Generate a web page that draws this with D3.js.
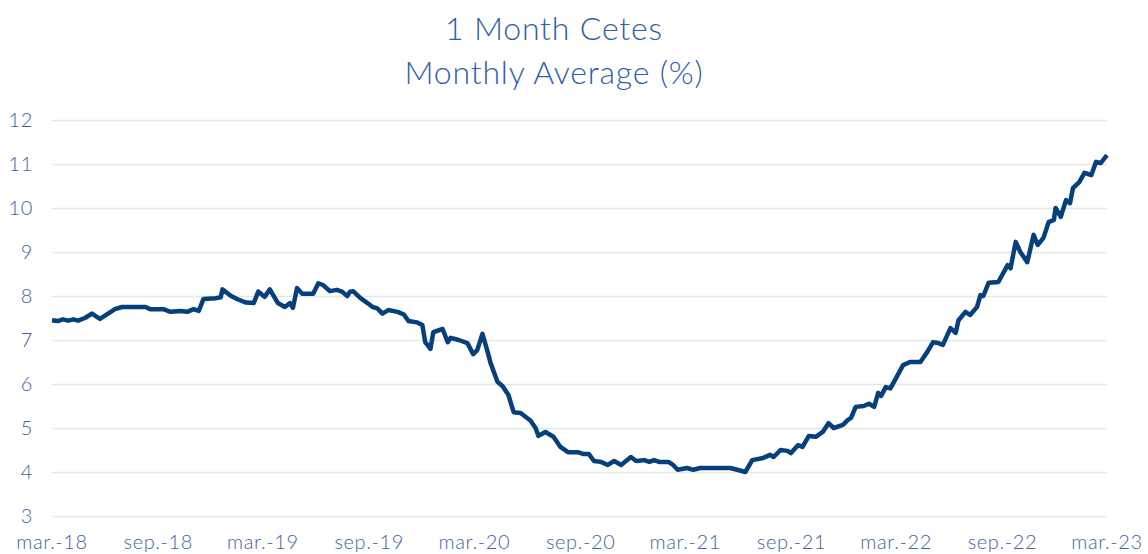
<!DOCTYPE html>
<html lang="en">
<head>
  <meta charset="UTF-8">
  <title>1 Month Cetes</title>
  <script src="https://d3js.org/d3.v7.min.js"></script>
  <style>
    body {
      margin: 0;
      background-color: #ffffff;
      font-family: 'Lato', 'Open Sans', sans-serif;
    }
    .title {
      fill: #2f60a6;
      font-size: 32px;
      font-weight: 300;
      letter-spacing: 0.8px;
    }
    .tick-label {
      fill: #44639b;
      font-size: 20px;
      font-weight: 300;
      letter-spacing: 0.6px;
    }
    .grid line {
      stroke: #e6e6e6;
      stroke-width: 1.5;
    }
    .series {
      fill: none;
      stroke: #053f7c;
      stroke-width: 4.5;
      stroke-linejoin: round;
    }
  </style>
</head>
<body>
  <svg width="1148" height="554"></svg>

  <script>
    // Weekly-ish readings of the 1 month Cetes rate (%)
    const dates = [
      "2018-03-01","2018-03-11","2018-03-20","2018-03-29","2018-04-07","2018-04-15","2018-04-27","2018-05-09",
      "2018-05-23","2018-06-06","2018-06-18","2018-06-30","2018-07-23","2018-08-10","2018-08-18","2018-09-10",
      "2018-09-22","2018-10-09","2018-10-21","2018-11-01","2018-11-10","2018-11-18","2018-12-09","2018-12-18",
      "2018-12-21","2019-01-05","2019-01-17","2019-01-31","2019-02-13","2019-02-21","2019-03-04","2019-03-13",
      "2019-03-27","2019-04-08","2019-04-17","2019-04-22","2019-04-29","2019-05-08","2019-05-27","2019-06-05",
      "2019-06-13","2019-06-25","2019-07-07","2019-07-16","2019-07-25","2019-07-30","2019-08-04","2019-08-17",
      "2019-08-29","2019-09-07","2019-09-15","2019-09-24","2019-10-04","2019-10-20","2019-10-31","2019-11-08",
      "2019-11-23","2019-12-02","2019-12-07","2019-12-16","2019-12-21","2020-01-06","2020-01-15","2020-01-20",
      "2020-02-03","2020-02-18","2020-02-28","2020-03-06","2020-03-15","2020-03-24","2020-03-29","2020-04-10",
      "2020-04-19","2020-04-29","2020-05-08","2020-05-20","2020-06-06","2020-06-15","2020-06-20","2020-07-02",
      "2020-07-16","2020-07-28","2020-08-10","2020-08-27","2020-09-05","2020-09-15","2020-09-24","2020-10-06",
      "2020-10-18","2020-10-29","2020-11-10","2020-11-27","2020-12-06","2020-12-20","2020-12-29","2021-01-06",
      "2021-01-15","2021-01-31","2021-02-08","2021-02-16","2021-03-04","2021-03-15","2021-03-27","2021-05-18",
      "2021-05-30","2021-06-13","2021-06-25","2021-07-14","2021-07-26","2021-08-01","2021-08-13","2021-08-25",
      "2021-08-31","2021-09-12","2021-09-20","2021-10-01","2021-10-13","2021-10-25","2021-11-04","2021-11-13",
      "2021-11-29","2021-12-07","2021-12-13","2021-12-21","2022-01-04","2022-01-13","2022-01-22","2022-01-29",
      "2022-02-03","2022-02-11","2022-02-19","2022-02-27","2022-03-13","2022-03-25","2022-04-12","2022-04-24",
      "2022-05-04","2022-05-13","2022-05-21","2022-06-03","2022-06-12","2022-06-17","2022-06-29","2022-07-07",
      "2022-07-19","2022-07-25","2022-07-30","2022-08-08","2022-08-25","2022-09-10","2022-09-15","2022-09-24",
      "2022-10-02","2022-10-14","2022-10-25","2022-11-01","2022-11-11","2022-11-20","2022-11-29","2022-12-02",
      "2022-12-11","2022-12-20","2022-12-27","2023-01-01","2023-01-12","2023-01-21","2023-02-02","2023-02-10",
      "2023-02-18","2023-03-01"
    ];
    const rates = [
      7.45, 7.43, 7.47, 7.44, 7.47, 7.44, 7.50, 7.60,
      7.48, 7.60, 7.70, 7.75, 7.75, 7.75, 7.70, 7.70,
      7.64, 7.66, 7.64, 7.70, 7.66, 7.93, 7.95, 7.97,
      8.15, 8.00, 7.92, 7.85, 7.84, 8.10, 7.98, 8.15,
      7.84, 7.75, 7.84, 7.73, 8.18, 8.05, 8.05, 8.29,
      8.25, 8.11, 8.14, 8.10, 8.00, 8.10, 8.11, 7.95,
      7.84, 7.75, 7.72, 7.60, 7.68, 7.64, 7.58, 7.43,
      7.40, 7.34, 6.95, 6.80, 7.18, 7.25, 6.95, 7.05,
      7.00, 6.93, 6.68, 6.77, 7.14, 6.73, 6.48, 6.05,
      5.95, 5.75, 5.36, 5.34, 5.17, 5.00, 4.82, 4.91,
      4.80, 4.57, 4.45, 4.45, 4.41, 4.41, 4.25, 4.23,
      4.16, 4.25, 4.16, 4.34, 4.25, 4.27, 4.23, 4.27,
      4.23, 4.23, 4.16, 4.05, 4.09, 4.05, 4.09, 4.09,
      4.05, 4.00, 4.27, 4.32, 4.39, 4.34, 4.50, 4.48,
      4.43, 4.61, 4.57, 4.82, 4.80, 4.91, 5.11, 5.00,
      5.07, 5.18, 5.23, 5.48, 5.50, 5.55, 5.48, 5.80,
      5.73, 5.93, 5.90, 6.09, 6.43, 6.50, 6.50, 6.73,
      6.95, 6.93, 6.89, 7.27, 7.16, 7.45, 7.64, 7.57,
      7.75, 8.02, 8.00, 8.30, 8.32, 8.70, 8.63, 9.23,
      9.00, 8.77, 9.39, 9.16, 9.32, 9.68, 9.73, 10.00,
      9.80, 10.18, 10.11, 10.45, 10.59, 10.80, 10.75, 11.05,
      11.02, 11.20
    ];

    const tickDates = [
      "2018-03-01","2018-09-01","2019-03-01","2019-09-01","2020-03-01","2020-09-01",
      "2021-03-01","2021-09-01","2022-03-01","2022-09-01","2023-03-01"
    ];
    const tickLabels = [
      "mar.-18","sep.-18","mar.-19","sep.-19","mar.-20","sep.-20",
      "mar.-21","sep.-21","mar.-22","sep.-22","mar.-23"
    ];
    const yTicks = [3, 4, 5, 6, 7, 8, 9, 10, 11, 12];
    const titleLines = ["1 Month Cetes", "Monthly Average (%)"];

    const parse = d3.timeParse("%Y-%m-%d");
    const data = dates.map((d, i) => ({date: parse(d), value: rates[i]}));

    const svg = d3.select("svg");
    const margin = {top: 120, right: 41, bottom: 38, left: 52};
    const width = 1148 - margin.left - margin.right;
    const height = 554 - margin.top - margin.bottom;

    const x = d3.scaleTime()
      .domain([parse(tickDates[0]), parse(tickDates[tickDates.length - 1])])
      .range([0, width]);

    const y = d3.scaleLinear()
      .domain([3, 12])
      .range([height, 0]);

    const g = svg.append("g")
      .attr("transform", "translate(" + margin.left + "," + margin.top + ")");

    // title
    svg.selectAll(".title")
      .data(titleLines)
      .enter().append("text")
      .attr("class", "title")
      .attr("x", 554)
      .attr("y", (d, i) => 40 + i * 44)
      .attr("text-anchor", "middle")
      .text(d => d);

    // horizontal gridlines
    g.append("g")
      .attr("class", "grid")
      .call(d3.axisLeft(y).tickValues(yTicks).tickSize(-width).tickFormat(""))
      .call(a => a.select(".domain").remove());

    // y labels
    g.selectAll(".ylab")
      .data(yTicks)
      .enter().append("text")
      .attr("class", "tick-label")
      .attr("x", -19)
      .attr("y", d => y(d))
      .attr("dy", "0.35em")
      .attr("text-anchor", "end")
      .text(d => d);

    // x labels
    g.selectAll(".xlab")
      .data(tickDates)
      .enter().append("text")
      .attr("class", "tick-label")
      .attr("x", d => x(parse(d)))
      .attr("y", height + 33)
      .attr("text-anchor", "middle")
      .text((d, i) => tickLabels[i]);

    const line = d3.line()
      .x(d => x(d.date))
      .y(d => y(d.value));

    g.append("path")
      .datum(data)
      .attr("class", "series")
      .attr("d", line);
  </script>
</body>
</html>
